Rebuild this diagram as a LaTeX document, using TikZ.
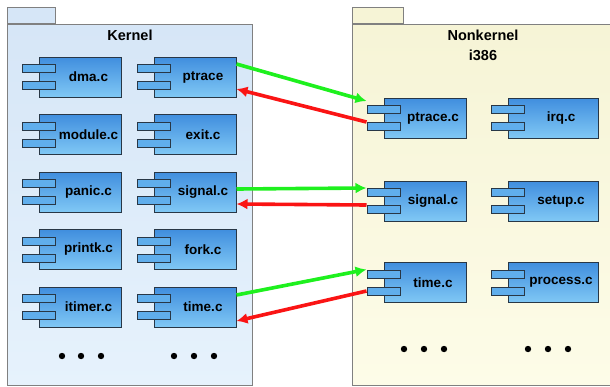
\documentclass[tikz,border=0pt]{standalone}
\usepackage{fontspec}
\setmainfont{Liberation Sans}
\usetikzlibrary{calc, arrows.meta}
\definecolor{kernTop}{RGB}{214, 230, 247}
\definecolor{kernBot}{RGB}{230, 242, 252}
\definecolor{nonkTop}{RGB}{246, 244, 214}
\definecolor{nonkBot}{RGB}{253, 252, 232}
\definecolor{pkgLine}{RGB}{128, 128, 128}
\definecolor{compTop}{RGB}{64, 142, 222}
\definecolor{compBot}{RGB}{128, 200, 245}
\definecolor{compLine}{RGB}{40, 55, 70}
\definecolor{portFill}{RGB}{96, 174, 236}
\definecolor{callGreen}{RGB}{30, 240, 30}
\definecolor{retRed}{RGB}{250, 20, 20}

\begin{document}
\begin{tikzpicture}[x=1pt, y=-1pt, font=\bfseries, >=Latex,
  pkg/.style={draw=pkgLine, line width=1.3pt, anchor=north west, minimum height=361pt, inner sep=0pt},
  tab/.style={draw=pkgLine, line width=1.3pt, anchor=south west, minimum height=16pt, inner sep=0pt},
  title/.style={font=\bfseries\fontsize{14.5}{20}\selectfont, align=center},
  comp/.style={draw=compLine, line width=1pt, top color=compTop, bottom color=compBot,
    minimum width=82pt, minimum height=40pt, inner sep=0pt},
  wide/.style={minimum width=90pt},
  file/.style={label={[xshift=8pt, font=\bfseries\fontsize{13.5}{15}\selectfont]center:#1}},
  port/.style={draw=compLine, line width=1pt, fill=portFill, minimum width=33pt, minimum height=8pt, inner sep=0pt},
  call/.style={->, line width=3.6pt, callGreen, arrows={-Latex[length=11pt, width=11pt]}},
  ret/.style={->, line width=3.6pt, retRed, arrows={-Latex[length=11pt, width=11pt]}}]
  \clip (0,0) rectangle (610,386);

  % packages
  \node[pkg, top color=kernTop, bottom color=kernBot, minimum width=245pt] (kernel) at (7,24) {};
  \node[tab, fill=kernTop, minimum width=48pt] (kernel-tab) at (kernel.north west) {};
  \node[pkg, top color=nonkTop, bottom color=nonkBot, minimum width=270pt] (nonkernel) at (352,24) {};
  \node[tab, fill=nonkTop, minimum width=51pt] (nonkernel-tab) at (nonkernel.north west) {};
  \node[title] (kernel-title) at (130,35) {Kernel};
  \node[title] (nonkernel-title) at (483,45) {Nonkernel\\i386};

  % kernel sources
  \node[comp, file=dma.c] (kdma) at (80.5,77) {};
  \node[comp, file=ptrace] (kptrace) at (195,77) {};
  \node[comp, file=module.c] (kmodule) at (80.5,134.5) {};
  \node[comp, file=exit.c] (kexit) at (195,134.5) {};
  \node[comp, file=panic.c] (kpanic) at (80.5,192) {};
  \node[comp, file=signal.c] (ksignal) at (195,192) {};
  \node[comp, file=printk.c] (kprintk) at (80.5,249.5) {};
  \node[comp, file=fork.c] (kfork) at (195,249.5) {};
  \node[comp, file=itimer.c] (kitimer) at (80.5,307) {};
  \node[comp, file=time.c] (ktime) at (195,307) {};

  % i386 sources
  \node[comp, file=ptrace.c] (nptrace) at (425,118) {};
  \node[comp, wide, file=irq.c] (nirq) at (553,118) {};
  \node[comp, file=signal.c] (nsignal) at (425,201) {};
  \node[comp, wide, file=setup.c] (nsetup) at (553,201) {};
  \node[comp, file=time.c] (ntime) at (425,282.5) {};
  \node[comp, wide, file=process.c] (nprocess) at (553,282.5) {};

  % the two ports on each component
  \foreach \c in {kdma, kptrace, kmodule, kexit, kpanic, ksignal, kprintk, kfork, kitimer, ktime,
                  nptrace, nirq, nsignal, nsetup, ntime, nprocess} {
    \node[port] (\c-a) at ([yshift=8.5pt]\c.west) {};
    \node[port] (\c-b) at ([yshift=-8.5pt]\c.west) {};
  }

  % more files
  \foreach \x in {62,81,101,174,194,214}
    \fill (\x,356) circle (3.2pt);
  \foreach \x in {404,424,444,528,548,568}
    \fill (\x,349) circle (3.2pt);

  % calls into i386 and back
  \draw[call] ([yshift=13pt]kptrace.east) -- ([yshift=4pt]nptrace-a.north west);
  \draw[ret] (nptrace-b.north west) -- ([yshift=-12pt]kptrace.east);
  \draw[call] ([yshift=3pt]ksignal.east) -- (nsignal-a.north west);
  \draw[ret] (nsignal-b.north west) -- ([yshift=-12pt]ksignal.east);
  \draw[call] ([yshift=12pt]ktime.east) -- (ntime-a.north west);
  \draw[ret] (ntime-b.west) -- ([yshift=-14pt]ktime.east);
\end{tikzpicture}
\end{document}
